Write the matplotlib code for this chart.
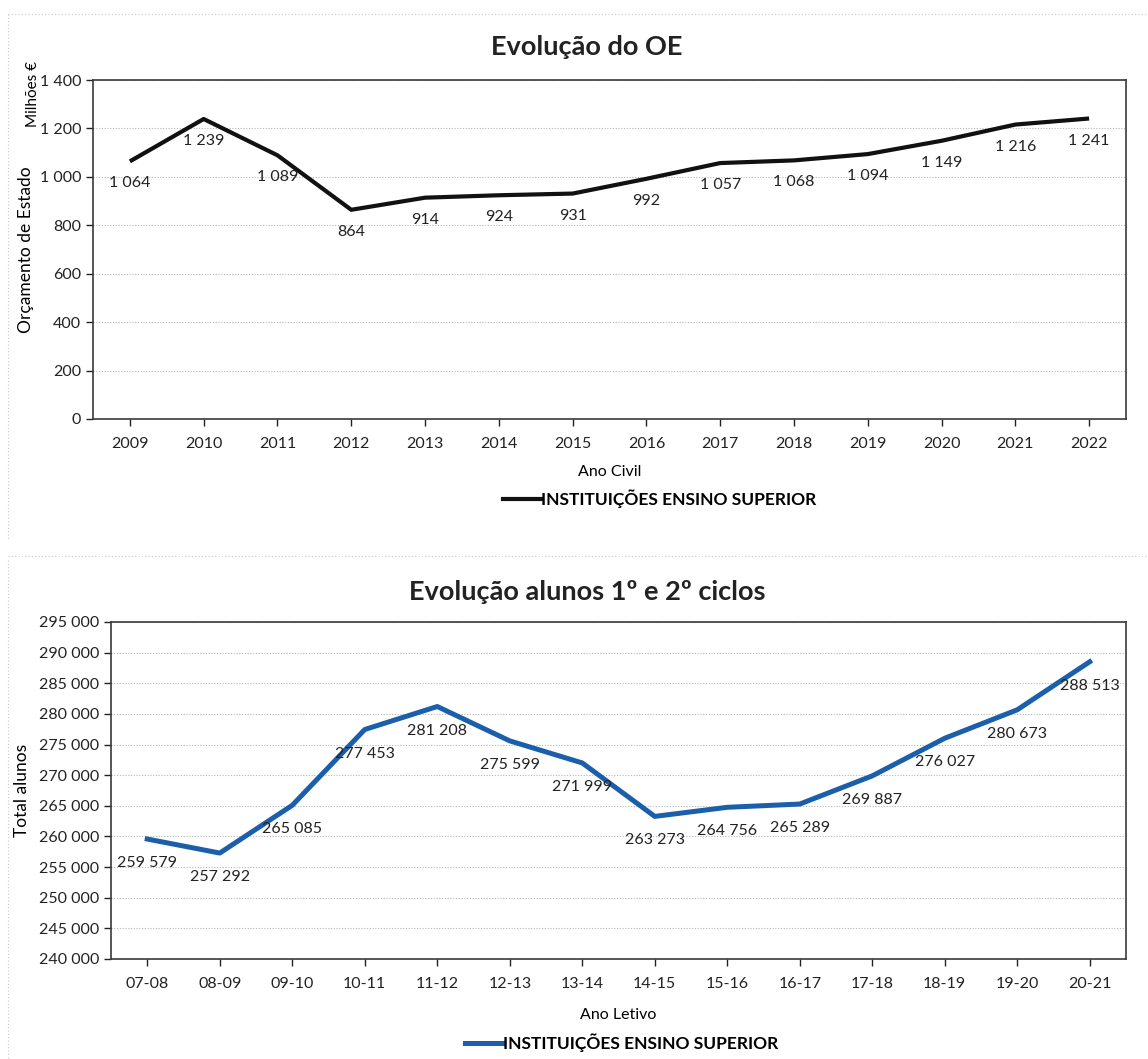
import matplotlib
matplotlib.use("Agg")
import matplotlib.pyplot as plt
from matplotlib.lines import Line2D

plt.rcParams["font.family"] = ["Lato", "DejaVu Sans"]

# Data: state budget (M€)
anos = ["2009", "2010", "2011", "2012", "2013", "2014", "2015", "2016",
        "2017", "2018", "2019", "2020", "2021", "2022"]
orcamento = [1064, 1239, 1089, 864, 914, 924, 931, 992,
             1057, 1068, 1094, 1149, 1216, 1241]

# Data: students (1st and 2nd cycles)
anos_letivos = ["07-08", "08-09", "09-10", "10-11", "11-12", "12-13", "13-14",
                "14-15", "15-16", "16-17", "17-18", "18-19", "19-20", "20-21"]
alunos = [259579, 257292, 265085, 277453, 281208, 275599, 271999,
          263273, 264756, 265289, 269887, 276027, 280673, 288513]

serie = "INSTITUIÇÕES ENSINO SUPERIOR"


def fmt(v):
    return f"{v:,}".replace(",", " ")


def style_axes(ax):
    for s in ax.spines.values():
        s.set_color("#3a3a3a")
        s.set_linewidth(1.2)
    ax.grid(axis="y", linestyle=(0, (1, 1.5)), color="#b5b5b5", linewidth=0.8)
    ax.set_axisbelow(True)
    ax.tick_params(axis="both", labelsize=11.5, colors="#222222", length=5,
                   width=1, direction="out")
    ax.tick_params(axis="x", pad=8)
    ax.set_xlim(-0.5, 13.5)


W, H = 1148, 1059
fig = plt.figure(figsize=(W / 100, H / 100), dpi=100)

# ---------- top chart ----------
ax1 = fig.add_axes([93 / W, 1 - 419 / H, (1126 - 93) / W, (419 - 80) / H])
x = list(range(len(anos)))
ax1.plot(x, orcamento, color="#111111", linewidth=3.0, solid_capstyle="butt")
style_axes(ax1)
ax1.set_ylim(0, 1400)
ax1.set_yticks(range(0, 1401, 200))
ax1.set_yticklabels([fmt(v) for v in range(0, 1401, 200)])
ax1.set_xticks(x)
ax1.set_xticklabels(anos)
for xi, v in zip(x, orcamento):
    ax1.annotate(fmt(v), (xi, v), xytext=(0, -22), textcoords="offset pixels",
                 ha="center", va="center", fontsize=11.5, color="#222222")
ax1.set_xlabel("Ano Civil", fontsize=11.5, labelpad=10)
ax1.set_ylabel("Orçamento de Estado", fontsize=12.5, labelpad=4)
fig.text(33 / W, 1 - 94 / H, "Milhões €", rotation=90, ha="center", va="center",
         fontsize=11)
fig.text(587 / W, 1 - 47 / H, "Evolução do OE", ha="center", va="center",
         fontsize=19.5, fontweight="bold", color="#222222")
fig.legend([Line2D([0], [0], color="#111111", linewidth=3.0)], [serie],
           loc="center", bbox_to_anchor=(660 / W, 1 - 499 / H), frameon=False,
           handlelength=2.2, handletextpad=0.0,
           prop={"size": 12.5, "weight": "bold"})

# ---------- bottom chart ----------
ax2 = fig.add_axes([111 / W, 1 - 959 / H, (1126 - 111) / W, (959 - 622) / H])
x2 = list(range(len(anos_letivos)))
azul = "#1b5fab"
ax2.plot(x2, alunos, color=azul, linewidth=3.6)
style_axes(ax2)
ax2.set_ylim(240000, 295000)
yt = list(range(240000, 295001, 5000))
ax2.set_yticks(yt)
ax2.set_yticklabels([fmt(v) for v in yt])
ax2.set_xticks(x2)
ax2.set_xticklabels(anos_letivos)
for xi, v in zip(x2, alunos):
    ax2.annotate(fmt(v), (xi, v), xytext=(0, -24), textcoords="offset pixels",
                 ha="center", va="center", fontsize=11.5, color="#222222")
ax2.set_xlabel("Ano Letivo", fontsize=11.5, labelpad=12)
ax2.set_ylabel("Total alunos", fontsize=12.5, labelpad=6)
fig.text(587 / W, 1 - 592 / H, "Evolução alunos 1º e 2º ciclos", ha="center",
         va="center", fontsize=19.5, fontweight="bold", color="#222222")
fig.legend([Line2D([0], [0], color=azul, linewidth=3.6)], [serie],
           loc="center", bbox_to_anchor=(622 / W, 1 - 1043 / H), frameon=False,
           handlelength=2.2, handletextpad=0.0,
           prop={"size": 12.5, "weight": "bold"})

# faint dotted frame lines from the scanned page
frame = dict(color="#c8c8c8", linewidth=0.8, linestyle=(0, (1, 2)),
             transform=fig.transFigure)
fig.add_artist(Line2D([8 / W, 1], [1 - 14 / H, 1 - 14 / H], **frame))
fig.add_artist(Line2D([8 / W, 8 / W], [1 - 14 / H, 1 - 540 / H], **frame))
fig.add_artist(Line2D([8 / W, 1], [1 - 556 / H, 1 - 556 / H], **frame))
fig.add_artist(Line2D([8 / W, 8 / W], [1 - 560 / H, 0], **frame))

fig.savefig("out.png", dpi=100)
